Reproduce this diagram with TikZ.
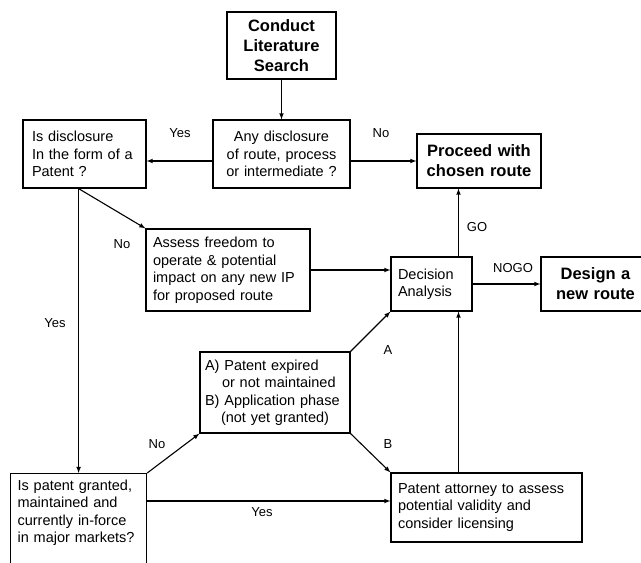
\documentclass[tikz,border=0pt]{standalone}
\usepackage{fontspec}
\setmainfont{Liberation Sans}
\usetikzlibrary{calc}

\begin{document}
\begin{tikzpicture}[x=1pt, y=-1pt,
		box/.style={draw, rectangle, line width=1.2pt, inner xsep=7pt, inner ysep=0pt, align=left, font=\fontsize{14.5}{17.5}\selectfont},
		boldbox/.style={box, align=center, inner xsep=4pt, font=\fontsize{16.5}{20}\selectfont\bfseries},
		lbl/.style={font=\fontsize{13}{15}\selectfont},
		line width=1.1pt, >=latex]

		\clip (0,0) rectangle (641,563);

		% Nós do diagrama
		\node (search) [boldbox, text width=101pt, minimum height=67pt] at (281.5,45.5) {Conduct\\Literature\\Search};
		\node (anydisc) [box, align=center, text width=123pt, minimum height=68pt] at (281.5,154) {Any disclosure\\of route, process\\or intermediate ?};
		\node (isdisc) [box, inner xsep=9pt, text width=105pt, minimum height=68pt] at (84.5,154) {Is disclosure\\In the form of a\\Patent ?};
		\node (proceed) [boldbox, text width=116pt, minimum height=54pt] at (479,161) {Proceed with\\chosen route};
		\node (assess) [box, text width=150pt, minimum height=82pt] at (228,270) {Assess freedom to\\operate \& potential\\impact on any new IP\\for proposed route};
		\node (decision) [box, text width=67pt, minimum height=54pt] at (431.5,284) {Decision\\Analysis};
		\node (design) [boldbox, text width=101pt, minimum height=54pt] at (595.5,284) {Design a\\new route};
		\node (expired) [box, inner xsep=5pt, text width=140pt, minimum height=81pt] at (275,392.5) {A) Patent expired\\\hspace*{17pt}or not maintained\\B) Application phase\\\hspace*{16pt}(not yet granted)};
		\node (granted) [box, inner ysep=6pt, text width=122pt, anchor=north west] at (10,473) {\parbox[c][100pt][t]{122pt}{\raggedright Is patent granted,\\maintained and\\currently in-force\\in major markets?}};
		\node (attorney) [box, text width=177pt, minimum height=69pt] at (486.5,507.5) {Patent attorney to assess\\potential validity and\\consider licensing};

		% Conexões
		\draw[->] (search) -- (anydisc);
		\draw[->] ([yshift=-7pt]anydisc.west) -- ([yshift=-7pt]isdisc.east);
		\draw[->] (anydisc.east |- proceed) -- (proceed.west);
		\draw[->] (isdisc.south -| granted.north) -- (assess.north west);
		\draw[->] (isdisc.south -| granted.north) -- (granted.north);
		\draw[->] (assess.east) -- (assess.east -| decision.west);
		\draw[->] ([xshift=27pt]decision.north) -- ([xshift=27pt]decision.north |- proceed.south);
		\draw[->] (decision.east) -- (design.west);
		\draw[->] (expired.north east) -- (decision.south west);
		\draw[->] (expired.south east) -- (attorney.north west);
		\draw[->] (granted.north east) -- (expired.south west);
		\draw[->] ([yshift=-28pt]granted.north east) -- ([yshift=-28pt]granted.north east -| attorney.west);
		\draw[->] ([xshift=-28pt]attorney.north) -- ([xshift=-28pt]attorney.north |- decision.south);

		% Rótulos
		\node (yes1) [lbl] at (180,133) {Yes};
		\node (no1) [lbl] at (381,133) {No};
		\node (no2) [lbl] at (122,244) {No};
		\node (yes2) [lbl] at (55,323) {Yes};
		\node (go) [lbl] at (477,227) {GO};
		\node (nogo) [lbl] at (513,268) {NOGO};
		\node (a) [lbl] at (388,350) {A};
		\node (b) [lbl] at (388,444) {B};
		\node (no3) [lbl] at (157,444) {No};
		\node (yes3) [lbl] at (262,512) {Yes};

\end{tikzpicture}
\end{document}
